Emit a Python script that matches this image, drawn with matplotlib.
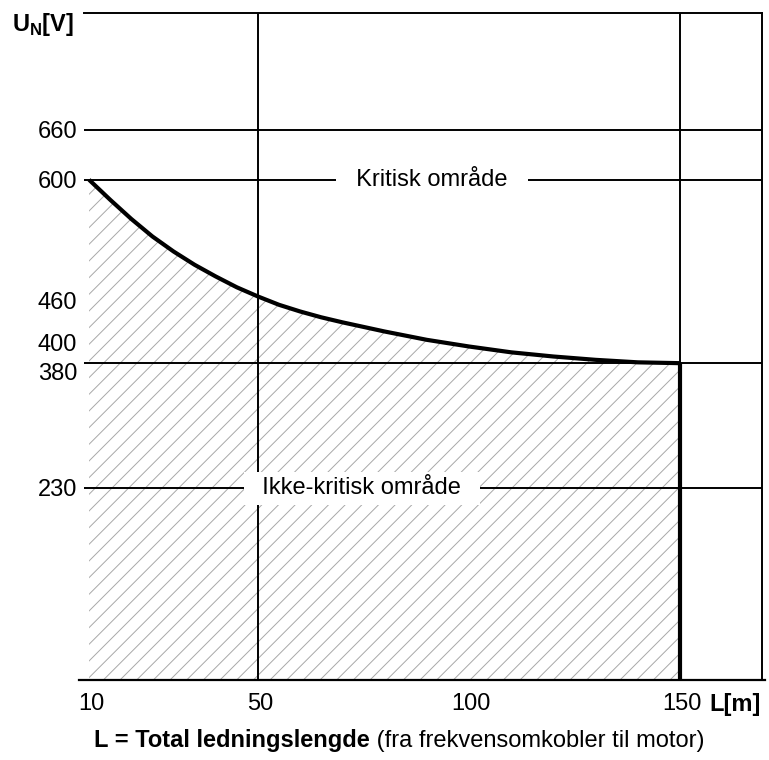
import matplotlib
matplotlib.use("Agg")
import matplotlib.pyplot as plt
import numpy as np

plt.rcParams['font.family'] = ['Liberation Sans', 'DejaVu Sans']
plt.rcParams['mathtext.fontset'] = 'custom'
plt.rcParams['mathtext.rm'] = 'Liberation Sans'
plt.rcParams['mathtext.bf'] = 'Liberation Sans:bold'
plt.rcParams['hatch.linewidth'] = 0.7

# Data
L_curve = [10, 15, 20, 25, 30, 35, 40, 45, 50, 55, 60, 65, 70, 80, 90, 100, 110, 120, 130, 140, 150]
U_curve = [600, 576, 553, 532, 514, 498, 484, 471, 460, 450, 442, 435, 429, 418, 408, 400, 393, 388, 384, 381, 380]
x_ticks = [10, 50, 100, 150]
y_ticks = [230, 380, 400, 460, 600, 660]
h_lines = [230, 380, 600, 660]
v_lines = [50, 150]
L_max = 150

FS = 17

fig = plt.figure(figsize=(7.69, 7.60), dpi=100)
ax = fig.add_axes([84/769, 1-680/760, (762-84)/769, (680-13)/760])
ax.set_xlim(8.8, 169.4)
ax.set_ylim(0, 800)
for s in ['left', 'bottom']:
    ax.spines[s].set_visible(False)
for s in ['top', 'right']:
    ax.spines[s].set_linewidth(1.4)
ax.set_xticks([])
ax.set_yticks([])

# y tick labels (slight vertical nudges as in the reference to keep 400/380 apart)
nudge = {380: -6.5, 400: 2.5, 460: -3}
for yv in y_ticks:
    ax.annotate(str(yv), xy=(0, yv), xycoords=('axes fraction', 'data'),
                xytext=(-5, nudge.get(yv, 0) - 1.5), textcoords='offset points',
                ha='right', va='center', fontsize=FS)

# bottom line extended slightly left
ax.plot([7.6, 170], [0, 0], color='black', lw=1.6, clip_on=False, zorder=3)

# hatch area
xc = np.array(L_curve, dtype=float)
yc = np.array(U_curve, dtype=float)
ax.fill_between(xc, 0, yc, facecolor='none', edgecolor='#a8a8a8', hatch='//', lw=0, zorder=1)

for h in h_lines:
    ax.axhline(h, color='black', lw=1.4, zorder=2)
for v in v_lines:
    ax.axvline(v, color='black', lw=1.4, zorder=2)

ax.plot(xc, yc, color='black', lw=3.0, zorder=4, solid_capstyle='butt')
ax.plot([L_max, L_max], [0, U_curve[-1]], color='black', lw=3.0, zorder=4, solid_capstyle='butt')

for xv in x_ticks:
    ax.text(xv + 0.5, -29, str(xv), ha='center', va='center', fontsize=FS)
ax.text(163.0, -29, 'L[m]', ha='center', va='center', fontsize=FS, fontweight='bold')

ax.text(91.2, 600, '  Kritisk område  ', ha='center', va='center', fontsize=FS,
        bbox=dict(facecolor='white', edgecolor='none', pad=5), zorder=5)
ax.text(74.6, 230, '  Ikke-kritisk område  ', ha='center', va='center', fontsize=FS,
        bbox=dict(facecolor='white', edgecolor='none', pad=4), zorder=5)

fig.text(12/769, 1-25/760, r'$\mathbf{U}_{\mathbf{N}}\mathbf{[V]}$', ha='left', va='center', fontsize=FS)

fig.text(370/769, 1-741/760, 'L = Total ledningslengde', ha='right', va='center', fontsize=FS, fontweight='bold')
fig.text(370/769, 1-741/760, ' (fra frekvensomkobler til motor)', ha='left', va='center', fontsize=FS)

fig.savefig('out.png', dpi=100)
